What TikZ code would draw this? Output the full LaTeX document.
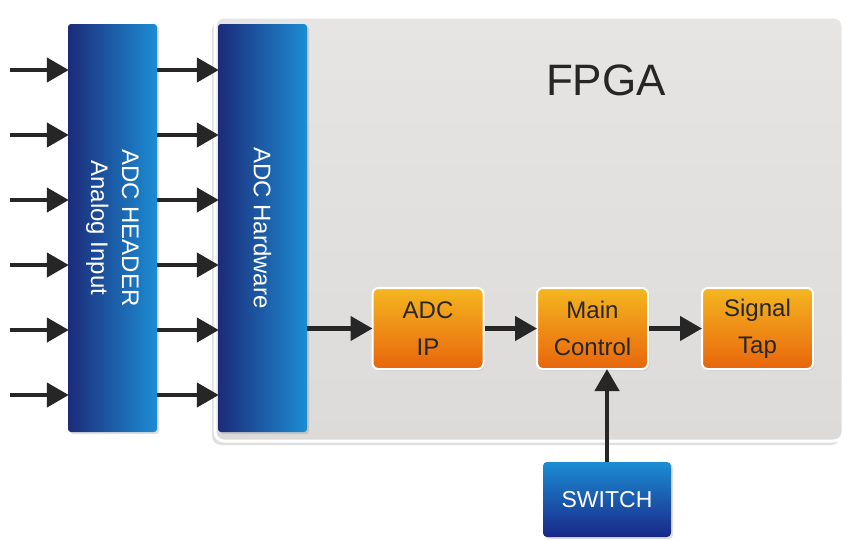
\documentclass[tikz,border=0pt]{standalone}
\usepackage{fontspec}
\setmainfont{Liberation Sans}
\usetikzlibrary{arrows.meta,shadows}
\definecolor{bluedark}{HTML}{1C2B7A}
\definecolor{bluelight}{HTML}{1C8DD3}
\definecolor{orangetop}{HTML}{F4B620}
\definecolor{orangebot}{HTML}{E8650C}
\definecolor{arrowc}{HTML}{262626}
\definecolor{fpgatop}{HTML}{E7E5E3}
\definecolor{fpgabot}{HTML}{DDDBD9}
\definecolor{txtc}{HTML}{262626}
\tikzset{
  bluebar/.style={rectangle, rounded corners=3pt, left color=bluedark, right color=bluelight,
    minimum width=89pt, minimum height=408pt, inner sep=0pt, text=white,
    drop shadow={shadow xshift=2pt, shadow yshift=-2pt, opacity=0.25}},
  vtext/.style={rotate=-90, align=center, font=\fontsize{24}{31}\selectfont, text=white},
  obox/.style={rectangle, rounded corners=6pt, top color=orangetop, bottom color=orangebot,
    draw=white, line width=2pt, minimum width=111pt, minimum height=81pt, inner sep=0pt,
    align=center, text=txtc, font=\fontsize{24}{37}\selectfont,
    drop shadow={shadow xshift=1.5pt, shadow yshift=-2pt, opacity=0.15}},
  conn/.style={draw=arrowc, line width=4.5pt, -{Triangle[length=22pt,width=24pt]}, shorten >=-1pt},
}
\begin{document}
\begin{tikzpicture}[x=1pt,y=-1pt]
\useasboundingbox (0,0) rectangle (846,539);
\fill[white] (0,0) rectangle (846,539);
% FPGA region
\node[rectangle, rounded corners=9pt, top color=fpgatop, bottom color=fpgabot, draw=white, line width=3pt,
  minimum width=628pt, minimum height=424pt, inner sep=0pt,
  drop shadow={shadow xshift=-3pt, shadow yshift=-4pt, opacity=0.25}] (fpga) at (529,229) {};
\node[font=\fontsize{44}{44}\selectfont, text=black!85] (fpgat) at (606,80) {FPGA};
% Blue bars
\node[bluebar] (hdr) at (112.5,228) {};
\node[vtext] (hdrt) at (hdr.center) {ADC HEADER\\Analog Input};
\node[bluebar] (hw) at (262.5,228) {};
\node[vtext] (hwt) at (hw.center) {ADC Hardware};
% Orange boxes
\node[obox] (adcip) at (428,328.5) {ADC\\IP};
\node[obox] (mc) at (592.5,328.5) {Main\\Control};
\node[obox] (st) at (757.5,328.5) {Signal\\Tap};
% Switch
\node[rectangle, rounded corners=4pt, top color=bluelight, bottom color=bluedark!90!blue,
  minimum width=128pt, minimum height=75pt, inner sep=0pt, text=white,
  font=\fontsize{23}{28}\selectfont,
  drop shadow={shadow xshift=2pt, shadow yshift=-2pt, opacity=0.25}] (sw) at (607,499.5) {SWITCH};
% Input arrows
\foreach \i/\y in {1/70,2/135,3/200,4/265,5/330,6/395}{
  \coordinate (in\i) at (10,\y);
  \draw[conn] (in\i) -- (in\i -| hdr.west);
  \draw[conn] (in\i -| hdr.east) -- (in\i -| hw.west);
}
\draw[conn] (adcip.west -| hw.east) -- (adcip.west);
\draw[conn] (adcip.east) -- (mc.west);
\draw[conn] (mc.east) -- (st.west);
\draw[conn] (sw.north) -- (sw.north |- mc.south);
\end{tikzpicture}
\end{document}
